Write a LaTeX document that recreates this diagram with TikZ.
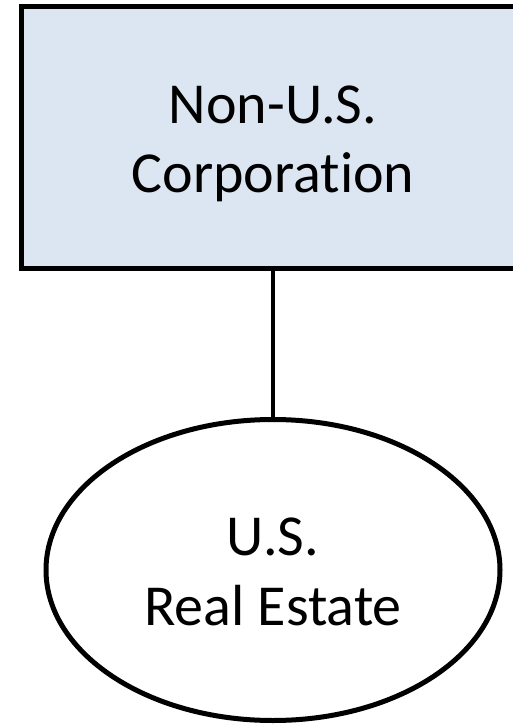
\documentclass[tikz,border=0pt]{standalone}
\usepackage{fontspec}
\setmainfont{Carlito}[Ligatures={NoCommon}]
\usetikzlibrary{shapes.geometric}
\definecolor{boxblue}{HTML}{DCE6F2}
\tikzset{
  shapeline/.style={draw=black, line width=5pt},
  corpbox/.style={shapeline, fill=boxblue, rectangle, minimum width=504pt, minimum height=262pt, inner sep=0pt, outer sep=0pt},
  estate/.style={shapeline, fill=white, ellipse, minimum width=454pt, minimum height=301pt, inner sep=0pt, outer sep=0pt},
  lbl/.style={anchor=base, inner sep=0pt, font=\fontsize{58pt}{69pt}\selectfont},
  conn/.style={draw=black, line width=4.5pt}
}
\begin{document}
\begin{tikzpicture}[x=1pt, y=-1pt]
\useasboundingbox (0,0) rectangle (513,726);
\begin{scope}
\clip (0,0) rectangle (513,726);
\node[corpbox] (corp) at (273,137.5) {};
\node[estate] (re) at (273,570) {};
\draw[conn] (corp.south) -- (re.north);
\node[lbl] (t1) at (273,123) {Non-U.S.};
\node[lbl] (t2) at (273,192) {Corporation};
\node[lbl] (t3) at (273,555) {U.S.};
\node[lbl] (t4) at (273,625) {Real Estate};
\end{scope}
\end{tikzpicture}
\end{document}
